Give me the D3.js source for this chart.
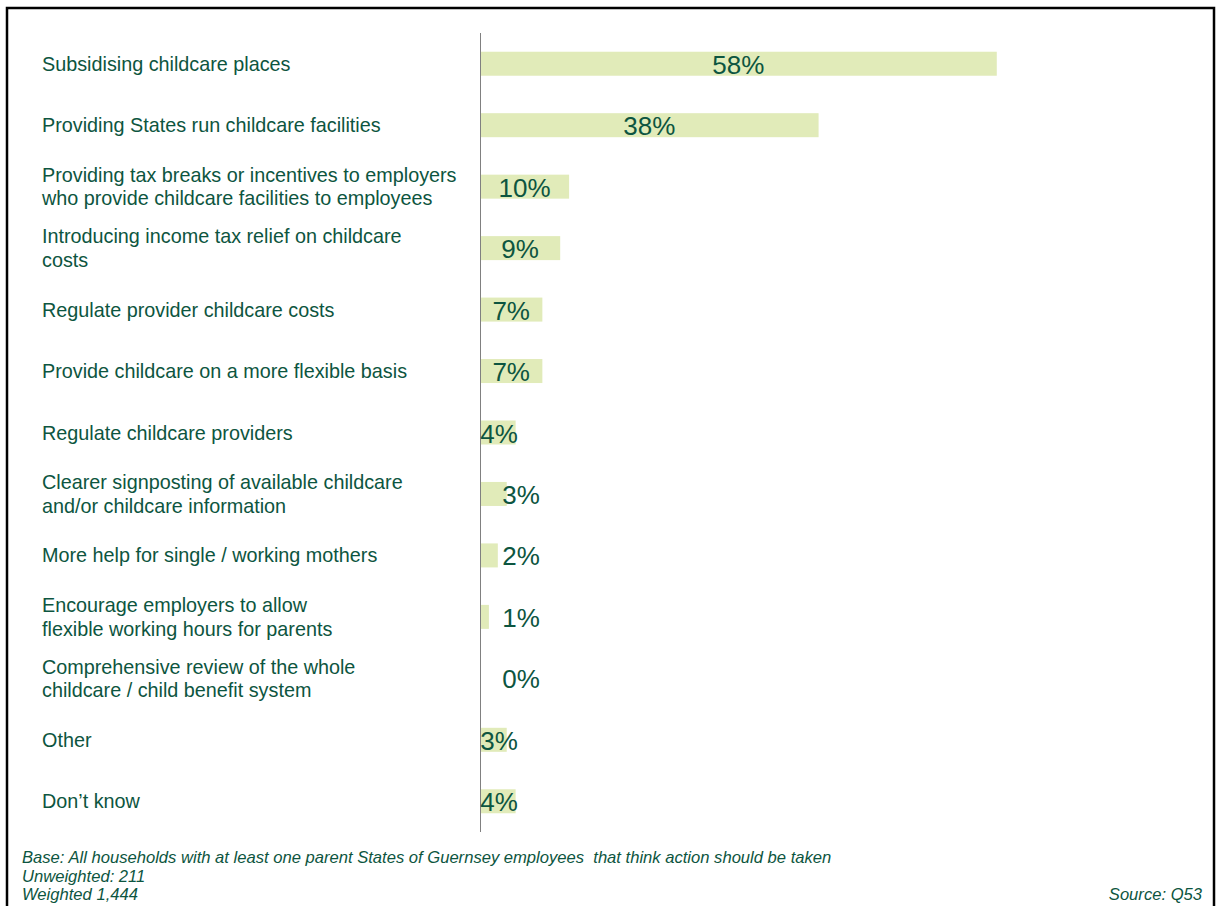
<!DOCTYPE html>
<html>
<head>
<meta charset="utf-8">
<script src="https://cdn.jsdelivr.net/npm/d3@7"></script>
<style>
  html, body { margin: 0; padding: 0; background: #fff; }
  svg { display: block; }
  text { font-family: "Liberation Sans", Arial, sans-serif; white-space: pre; }
</style>
</head>
<body>
<svg id="chart" width="1216" height="906"></svg>
<script>
// Survey responses: what action should be taken on childcare
const categories = [
  ["Subsidising childcare places"],
  ["Providing States run childcare facilities"],
  ["Providing tax breaks or incentives to employers", "who provide childcare facilities to employees"],
  ["Introducing income tax relief on childcare", "costs"],
  ["Regulate provider childcare costs"],
  ["Provide childcare on a more flexible basis"],
  ["Regulate childcare providers"],
  ["Clearer signposting of available childcare", "and/or childcare information"],
  ["More help for single / working mothers"],
  ["Encourage employers to allow", "flexible working hours for parents"],
  ["Comprehensive review of the whole", "childcare / child benefit system"],
  ["Other"],
  ["Don\u2019t know"]
];
const values = [58, 38, 10, 9, 7, 7, 4, 3, 2, 1, 0, 3, 4];
// whether the value label sits beside the bar rather than on it
const labelOutside = [false, false, false, false, false, false, false, true, true, true, true, false, false];

const footnotes = [
  "Base: All households with at least one parent States of Guernsey employees  that think action should be taken",
  "Unweighted: 211",
  "Weighted 1,444"
];
const sourceNote = "Source: Q53";

const textColor = "#0d5540";
const barColor = "#e1ebb9";

const svg = d3.select("#chart");

// frame
svg.append("rect")
  .attr("x", 7).attr("y", 8)
  .attr("width", 1207).attr("height", 910)
  .attr("fill", "none")
  .attr("stroke", "#000")
  .attr("stroke-width", 2.5);

const x = d3.scaleLinear().domain([0, 100]).range([480, 480 + 891]);
const band = d3.scaleBand().domain(d3.range(categories.length)).range([33, 832]);
const barH = 24;

// bars
svg.append("g").selectAll("rect")
  .data(values)
  .join("rect")
  .attr("x", x(0))
  .attr("y", (d, i) => band(i) + band.bandwidth() / 2 - barH / 2)
  .attr("width", d => x(d) - x(0))
  .attr("height", barH)
  .attr("fill", barColor);

// axis line
svg.append("line")
  .attr("x1", x(0) + 0.5).attr("x2", x(0) + 0.5)
  .attr("y1", 33).attr("y2", 832)
  .attr("stroke", "#808080")
  .attr("stroke-width", 1);

// category labels
const lineH = 23.5;
const cat = svg.append("g").selectAll("text")
  .data(categories)
  .join("text")
  .attr("fill", textColor)
  .attr("font-size", 19.8)
  .attr("dominant-baseline", "central");
cat.each(function (lines, i) {
  const cy = band(i) + band.bandwidth() / 2;
  const top = cy - (lines.length - 1) * lineH / 2;
  d3.select(this).selectAll("tspan")
    .data(lines)
    .join("tspan")
    .attr("x", 42)
    .attr("y", (l, j) => top + j * lineH)
    .text(l => l);
});

// value labels
svg.append("g").selectAll("text")
  .data(values)
  .join("text")
  .attr("fill", textColor)
  .attr("font-size", 26)
  .attr("text-anchor", "middle")
  .attr("dominant-baseline", "central")
  .attr("x", (d, i) => {
    if (labelOutside[i]) return x(4.6);
    const mid = (x(0) + x(d)) / 2;
    return Math.max(mid, x(0) + 19);
  })
  .attr("y", (d, i) => band(i) + band.bandwidth() / 2 + 1)
  .text(d => d + "%");

// footnotes
svg.append("g").selectAll("text")
  .data(footnotes)
  .join("text")
  .attr("x", 22)
  .attr("y", (d, i) => 863 + i * 18.5)
  .attr("fill", textColor)
  .attr("font-size", 16.6)
  .attr("font-style", "italic")
  .text(d => d);

svg.append("text")
  .attr("x", 1202)
  .attr("y", 900)
  .attr("text-anchor", "end")
  .attr("fill", textColor)
  .attr("font-size", 16.6)
  .attr("font-style", "italic")
  .text(sourceNote);
</script>
</body>
</html>
